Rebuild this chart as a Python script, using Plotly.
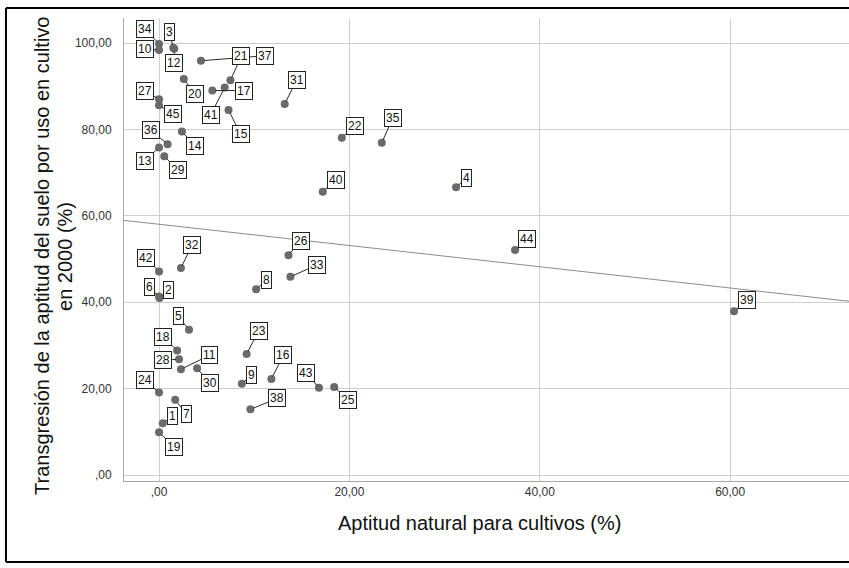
import numpy as np
import plotly.graph_objects as go

# ---- data ----
case_ids = list(range(1, 46))
aptitud_natural = [0.39, 0.05, 1.5, 31.2, 3.15, 0.0, 1.7, 10.2, 8.7, 0.0,
                   2.3, 1.6, 0.0, 2.4, 7.3, 11.8, 5.6, 1.9, 0.0, 2.6,
                   7.5, 19.2, 9.2, 0.0, 18.4, 13.6, 0.0, 2.1, 0.55, 4.0,
                   13.2, 2.3, 13.8, 0.0, 23.4, 0.9, 4.4, 9.6, 60.4, 17.2,
                   6.9, 0.0, 16.8, 37.4, 0.0]
transgresion = [12.0, 41.0, 98.9, 66.6, 33.6, 41.3, 17.4, 43.0, 21.1, 98.4,
                24.5, 98.7, 75.8, 79.5, 84.5, 22.2, 89.0, 28.8, 9.9, 91.7,
                91.4, 78.1, 28.0, 19.1, 20.4, 50.9, 87.0, 26.8, 73.8, 24.7,
                85.9, 47.9, 45.9, 99.8, 76.9, 76.6, 95.9, 15.2, 37.9, 65.6,
                89.7, 47.1, 20.2, 52.1, 85.6]
x_tick_vals = [0, 20, 40, 60]
x_tick_text = [",00", "20,00", "40,00", "60,00"]
y_tick_vals = [0, 20, 40, 60, 80, 100]
y_tick_text = [",00", "20,00", "40,00", "60,00", "80,00", "100,00"]
x_title = "Aptitud natural para cultivos (%)"
y_title_lines = ["Transgresión de la aptitud del suelo por uso en cultivo", "en 2000 (%)"]

# ---- label placement (pixel offsets of the label boxes) ----
label_offsets = {
    1: (10, -7), 2: (9, -8), 3: (-4, -16), 4: (10, -9), 5: (-11, -14),
    6: (-10, -10), 7: (11, 14), 8: (10, -9), 9: (10, -9), 10: (-14, -1),
    11: (29, -14), 12: (0, 14), 13: (-14, 13), 14: (13, 14), 15: (12, 24),
    16: (12, -24), 17: (32, 0), 18: (-14, -14), 19: (15, 15), 20: (11, 15),
    21: (11, -24), 22: (13, -12), 23: (12, -23), 24: (-14, -12), 25: (14, 13),
    26: (12, -14), 27: (-14, -8), 28: (-16, 1), 29: (14, 14), 30: (13, 15),
    31: (12, -24), 32: (11, -23), 33: (27, -12), 34: (-14, -15), 35: (11, -25),
    36: (-17, -14), 37: (64, -5), 38: (27, -11), 39: (13, -11), 40: (13, -12),
    41: (-14, 27), 42: (-13, -14), 43: (-13, -15), 44: (12, -11), 45: (14, 9),
}
draw_first = [37]

X_RANGE = [-3.68, 72.48]
Y_RANGE = [-1.39, 105.8]

FONT = "Liberation Sans, Arial, sans-serif"

fig = go.Figure()

# linear fit line over the whole x range
slope, intercept = np.polyfit(aptitud_natural, transgresion, 1)
fx = np.array(X_RANGE)
fig.add_trace(go.Scatter(x=fx, y=intercept + slope * fx, mode="lines",
                         line=dict(color="#8c8c8c", width=1),
                         hoverinfo="skip", showlegend=False))

fig.add_trace(go.Scatter(x=aptitud_natural, y=transgresion, mode="markers",
                         marker=dict(size=8, color="#6a6a6a"),
                         text=[str(c) for c in case_ids], showlegend=False))

order = draw_first + [c for c in case_ids if c not in draw_first]
annotations = []
for cid in order:
    i = case_ids.index(cid)
    ax, ay = label_offsets[cid]
    annotations.append(dict(
        x=aptitud_natural[i], y=transgresion[i], xref="x", yref="y",
        text=str(cid), showarrow=True, arrowhead=0, arrowwidth=1,
        arrowcolor="#2b2b2b", standoff=3, ax=ax, ay=ay,
        font=dict(family=FONT, size=12, color="#111"),
        bgcolor="white", bordercolor="#222", borderwidth=1, borderpad=1,
    ))

title_font = dict(family=FONT, size=20, color="#111")
# axis titles placed as paper annotations
annotations.append(dict(text=x_title, xref="paper", yref="paper", x=0.4897, y=-0.0907,
                        xanchor="center", yanchor="middle", showarrow=False, font=title_font))
for txt, xp in zip(y_title_lines, [-0.1131, -0.0814]):
    annotations.append(dict(text=txt, xref="paper", yref="paper", x=xp, y=0.486,
                            xanchor="center", yanchor="middle", textangle=-90,
                            showarrow=False, font=title_font))

# outer frame of the exported picture
L, T, B = -0.1628, 1.0216, -0.175
shapes = [
    dict(type="line", xref="paper", yref="paper", x0=L, x1=L, y0=B, y1=T,
         line=dict(color="black", width=2)),
    dict(type="line", xref="paper", yref="paper", x0=L, x1=1.01, y0=T, y1=T,
         line=dict(color="black", width=2)),
    dict(type="line", xref="paper", yref="paper", x0=L, x1=1.01, y0=B, y1=B,
         line=dict(color="black", width=2)),
]

axis_font = dict(family=FONT, size=12, color="#333")

fig.update_layout(
    width=849, height=568,
    margin=dict(l=124, r=0, t=18, b=87),
    paper_bgcolor="white", plot_bgcolor="white",
    annotations=annotations, shapes=shapes,
    xaxis=dict(range=X_RANGE, tickvals=x_tick_vals, ticktext=x_tick_text,
               showgrid=True, gridcolor="#cfcfcf", gridwidth=1, zeroline=False,
               showline=True, linecolor="#a8a8a8", linewidth=1, ticks="",
               tickfont=axis_font),
    yaxis=dict(range=Y_RANGE, tickvals=y_tick_vals, ticktext=y_tick_text,
               showgrid=True, gridcolor="#cfcfcf", gridwidth=1, zeroline=False,
               showline=True, linecolor="#a8a8a8", linewidth=1, ticks="",
               tickfont=axis_font, ticklabelstandoff=9),
)

fig.write_html("out.html", config={"displayModeBar": False},
               post_script="document.body.style.margin='0';")
